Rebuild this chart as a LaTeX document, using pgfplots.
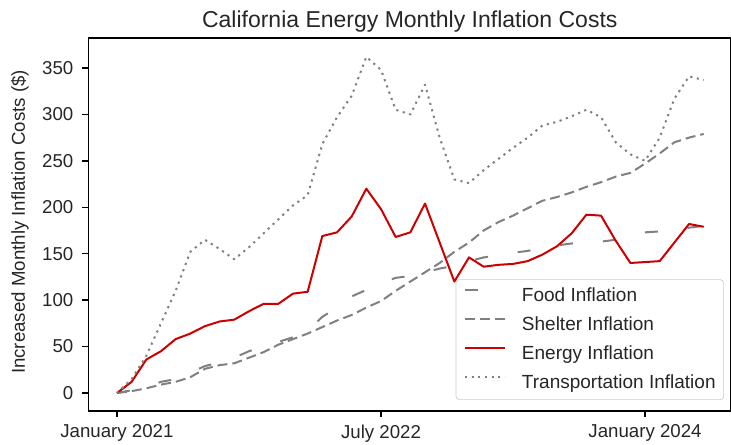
\documentclass[border=0pt]{standalone}
\usepackage{fontspec}
\setmainfont{Liberation Sans}
\usepackage{pgfplots}
\usepackage{pgfplotstable}
\pgfplotsset{compat=1.18}
\definecolor{lgray}{HTML}{808080}
\definecolor{ered}{HTML}{CC0000}
\definecolor{txt}{HTML}{262626}

% month index 0 = January 2021
\pgfplotstableread{
m  food shelter energy transport
0  0    0   0   0
1  3    2   12  15
2  6    5   36  40
3  12   9   45  75
4  15   12  58  110
5  22   17  64  152
6  29   26  72  165
7  33   30  77  155
8  38   32  79  144
9  45   38  88  157
10 50   44  96  172
11 55   52  96  187
12 60   58  107 202
13 67   64  109 213
14 82   71  169 268
15 92   78  173 297
16 104  84  190 320
17 111  92  220 362
18 118  99  198 348
19 124  110 168 305
20 126  120 173 300
21 130  130 204 332
22 134  140 162 275
23 137  152 120 230
24 142  162 146 226
25 146  175 136 240
26 148  184 138 252
27 151  191 139 264
28 153  199 142 275
29 156  207 149 288
30 159  211 158 292
31 161  216 172 298
32 162  222 192 305
33 163  227 191 297
34 165  233 164 270
35 169  237 140 257
36 173  247 141 250
37 174  258 142 275
38 175  270 162 317
39 178  275 182 341
40 180  279 179 337
}\inflation

\begin{document}
\begin{tikzpicture}
\begin{axis}[
  at={(0,0)}, anchor=south west,
  width=385.5pt, height=223.8pt, scale only axis,
  xmin=-1.94, xmax=41.86, ymin=-19.4, ymax=382.3,
  font=\fontsize{11.2}{13.4}\selectfont, color=txt,
  axis line style={black, line width=0.8pt},
  tick style={black, line width=0.8pt},
  major tick length=3.6pt, tick align=outside,
  xtick pos=left, ytick pos=left,
  xtick={0,18,36},
  xticklabels={January 2021,July 2022,January 2024},
  ytick={0,50,...,350},
  /pgf/number format/assume math mode=true,
  yticklabel style={xshift=-2pt},
  xticklabel style={yshift=-1pt},
  title={California Energy Monthly Inflation Costs},
  title style={at={(0.5,1)}, anchor=base, yshift=0pt, font=\fontsize{13.8}{16}\selectfont},
  ylabel={Increased Monthly Inflation Costs (\$)},
  ylabel style={at={([xshift=-41.1pt,yshift=1.5pt]axis description cs:0,0.5)}, anchor=center},
  legend cell align=left,
  legend image code/.code={\draw[#1] (0pt,3.4pt) -- (24pt,3.4pt);},
  legend style={
    at={(axis description cs:0.989,0.0295)}, anchor=south east,
    draw=black!20, rounded corners=2pt, fill=white, fill opacity=0.8, text opacity=1,
    font=\fontsize{11.4}{13.6}\selectfont,
    inner xsep=4.8pt, inner ysep=4.4pt, row sep=6.4pt, column sep=9.6pt,
    nodes={inner sep=0pt, text height=8.5pt, text depth=2.5pt},
  },
  every axis plot/.append style={line width=1.2pt, line join=round},
]
\addplot[lgray, dash pattern=on 7.8pt off 18pt] table[x=m, y=food] {\inflation};
\addlegendentry{Food Inflation}
\addplot[lgray, dash pattern=on 6pt off 3pt] table[x=m, y=shelter] {\inflation};
\addlegendentry{Shelter Inflation}
\addplot[ered] table[x=m, y=energy] {\inflation};
\addlegendentry{Energy Inflation}
\addplot[lgray, dash pattern=on 1.3pt off 2.7pt] table[x=m, y=transport] {\inflation};
\addlegendentry{Transportation Inflation}
\end{axis}
\pgfresetboundingbox
\path[use as bounding box] (-53.1pt,-20.4pt) rectangle (385.5pt,246.6pt);
\end{tikzpicture}
\end{document}
